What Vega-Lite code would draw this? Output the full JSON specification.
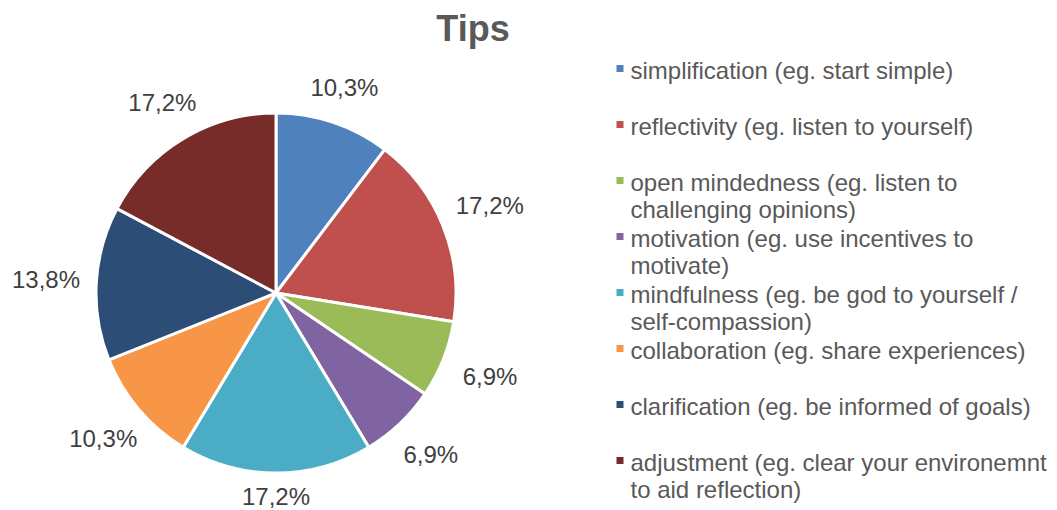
{
  "$schema": "https://vega.github.io/schema/vega-lite/v6.json",
  "autosize": "none",
  "width": 552,
  "height": 420,
  "padding": {"left": 0, "top": 83, "right": 505, "bottom": 7},
  "background": "white",
  "config": {"style": {"guide-label": {"lineHeight": 27}}},
  "title": {
    "text": "Tips",
    "font": "Liberation Sans",
    "fontSize": 36,
    "fontWeight": "bold",
    "color": "#595959",
    "anchor": "middle",
    "dx": 197,
    "offset": 8
  },
  "data": {
    "values": [
      {"idx": 1, "tip": "simplification (eg. start simple)|", "pct": 10.3, "label": "10,3%"},
      {"idx": 2, "tip": "reflectivity (eg. listen to yourself)|", "pct": 17.2, "label": "17,2%"},
      {"idx": 3, "tip": "open mindedness (eg. listen to|challenging opinions)", "pct": 6.9, "label": "6,9%"},
      {"idx": 4, "tip": "motivation (eg. use incentives to|motivate)", "pct": 6.9, "label": "6,9%"},
      {"idx": 5, "tip": "mindfulness (eg. be god to yourself /|self-compassion)", "pct": 17.2, "label": "17,2%"},
      {"idx": 6, "tip": "collaboration (eg. share experiences)|", "pct": 10.3, "label": "10,3%"},
      {"idx": 7, "tip": "clarification (eg. be informed of goals)|", "pct": 13.8, "label": "13,8%"},
      {"idx": 8, "tip": "adjustment (eg. clear your environemnt|to aid reflection)", "pct": 17.2, "label": "17,2%"}
    ]
  },
  "encoding": {
    "theta": {"field": "pct", "type": "quantitative", "stack": true},
    "order": {"field": "idx", "type": "quantitative"}
  },
  "layer": [
    {
      "mark": {"type": "arc", "outerRadius": 180, "stroke": "white", "strokeWidth": 3},
      "encoding": {
        "color": {
          "field": "tip",
          "type": "nominal",
          "scale": {
            "domain": [
              "simplification (eg. start simple)|",
              "reflectivity (eg. listen to yourself)|",
              "open mindedness (eg. listen to|challenging opinions)",
              "motivation (eg. use incentives to|motivate)",
              "mindfulness (eg. be god to yourself /|self-compassion)",
              "collaboration (eg. share experiences)|",
              "clarification (eg. be informed of goals)|",
              "adjustment (eg. clear your environemnt|to aid reflection)"
            ],
            "range": ["#4F81BD", "#C0504D", "#9BBB59", "#8064A2", "#4BACC6", "#F79646", "#2C4D75", "#772C2A"]
          },
          "legend": {
            "title": null,
            "orient": "none",
            "legendX": 608,
            "legendY": -26.5,
            "clipHeight": 30,
            "symbolType": "M -1 -1.86 H 1 V 0.14 H -1 Z",
            "symbolSize": 49,
            "symbolStrokeWidth": 0,
            "labelExpr": "split(datum.label, '|')",
            "labelFont": "Liberation Sans",
            "labelFontSize": 24,
            "labelColor": "#595959",
            "labelBaseline": "middle",
            "labelLimit": 600,
            "labelOffset": -1.5,
            "rowPadding": 2
          }
        }
      }
    },
    {
      "mark": {
        "type": "text",
        "radius": {"expr": "198 + 32 * abs(sin(PI * (datum.pct_start + datum.pct_end) / 99.8)) + 7 * abs(cos(PI * (datum.pct_start + datum.pct_end) / 99.8))"},
        "font": "Liberation Sans",
        "fontSize": 24,
        "color": "#404040",
        "align": "center",
        "baseline": "middle"
      },
      "encoding": {
        "text": {"field": "label", "type": "nominal"}
      }
    }
  ]
}
